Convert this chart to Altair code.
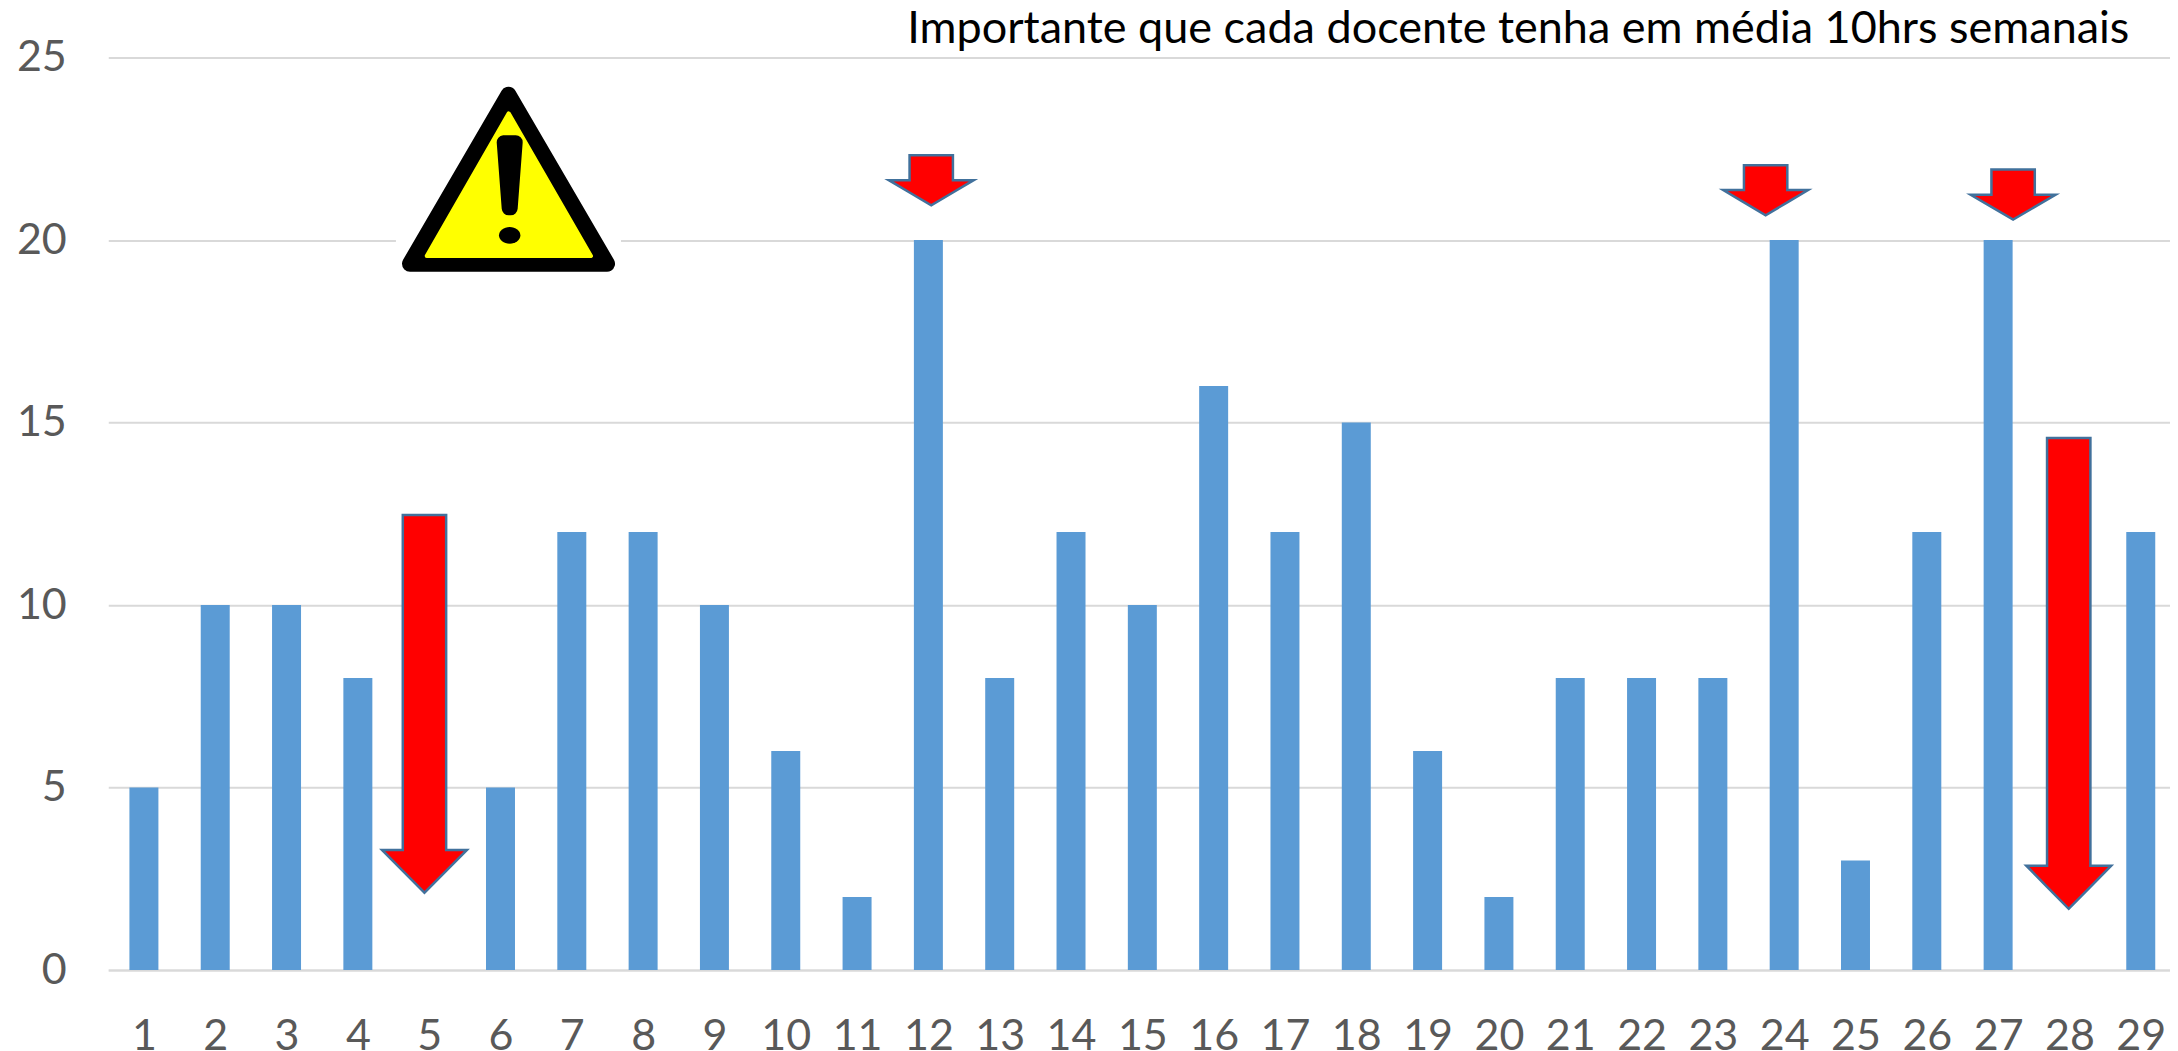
import altair as alt
import pandas as pd

categories = list(range(1, 30))
values = [5, 10, 10, 8, 0, 5, 12, 12, 10, 6, 2, 20, 8, 12, 10, 16, 12, 15, 6, 2,
          8, 8, 8, 20, 3, 12, 20, 0, 12]
y_ticks = [0, 5, 10, 15, 20, 25]
note = ["Importante que cada docente tenha em média 10hrs semanais"]

# arrows, in axis units
arrow_center = [4.934, 12.04, 23.74, 27.21, 27.99]
arrow_top = [12.47, 22.32, 22.05, 21.93, 14.58]
arrow_base = [3.29, 21.64, 21.37, 21.24, 2.86]
arrow_tip = [2.12, 20.95, 20.68, 20.56, 1.68]
SHAFT = 0.304
HEAD = 0.595

FONT = "Lato"
GREY = "#595959"
GRID = "#D9D9D9"
x_scale = alt.Scale(domain=[0.5, 29.41], nice=False, zero=False, padding=0)
y_scale = alt.Scale(domain=[0, 25], nice=False)
x_axis = alt.Axis(
    values=categories, grid=False, ticks=False, labelFont=FONT, labelFontSize=43,
    labelColor=GREY, labelPadding=45, domainColor=GRID, domainWidth=2,
    labelAngle=0, labelOverlap=False, labelFlush=False, title=None)
y_axis = alt.Axis(
    values=y_ticks, grid=True, gridColor=GRID, gridWidth=2, ticks=False, domain=False,
    labelFont=FONT, labelFontSize=43, labelColor=GREY, labelPadding=42, title=None)


def X(f):
    return alt.X(f, scale=x_scale, axis=x_axis)


def Y(f):
    return alt.Y(f, scale=y_scale, axis=y_axis)


def arrow_rows(k):
    cx, top, base, tip = arrow_center[k], arrow_top[k], arrow_base[k], arrow_tip[k]
    low = base + (tip - base) * (HEAD - SHAFT) / HEAD
    pts = [(cx - HEAD, base, base), (cx - SHAFT, base, low), (cx - SHAFT, top, low),
           (cx, top, tip), (cx + SHAFT, top, low), (cx + SHAFT, base, low),
           (cx + HEAD, base, base)]
    return [dict(id=k, i=i, x=p[0], y=p[1], y2=p[2]) for i, p in enumerate(pts)]


arrows = pd.DataFrame([r for k in range(len(arrow_center)) for r in arrow_rows(k)])


def poly(df, **kw):
    return alt.Chart(df).mark_area(interpolate="linear", orient="vertical", **kw).encode(
        x=X("x:Q"), y=Y("y:Q"), y2="y2:Q", detail="id:N",
    )


bars = alt.Chart(pd.DataFrame({"c": categories, "v": values})).mark_bar(
    size=29, color="#5B9BD5"
).encode(x=X("c:Q"), y=Y("v:Q"))

arrow_layer = poly(arrows, fill="#FF0000", stroke="#41719C", strokeWidth=2.5, strokeJoin="miter")

# warning sign, in axis units
backdrop = alt.Chart(pd.DataFrame({"x": [4.534], "x2": [7.69], "y": [18.9], "y2": [24.93]})).mark_rect(
    color="white"
).encode(x=X("x:Q"), x2="x2:Q", y=Y("y:Q"), y2="y2:Q")
outer = pd.DataFrame({"id": 0, "x": [4.731, 6.112, 7.494],
                      "y": [19.35, 23.98, 19.35], "y2": [19.35, 19.35, 19.35]})
inner = pd.DataFrame({"id": 0, "x": [4.965, 6.115, 7.269],
                      "y": [19.56, 23.47, 19.56], "y2": [19.56, 19.56, 19.56]})
bang = pd.DataFrame({"id": 0, "x": [6.045, 6.115, 6.143, 6.213],
                     "y": [22.68, 22.68, 22.68, 22.68], "y2": [22.68, 20.87, 20.87, 22.68]})
outer_layer = poly(outer, fill="black", stroke="black", strokeWidth=16, strokeJoin="round")
inner_layer = poly(inner, fill="#FFFF00", stroke="#FFFF00", strokeWidth=4, strokeJoin="round")
bang_layer = poly(bang, fill="black", stroke="black", strokeWidth=14, strokeJoin="round")
dot = alt.Chart(pd.DataFrame({"x": [6.129], "y": [20.13]})).mark_point(
    shape="M-1,0A1,0.78,0,1,1,1,0A1,0.78,0,1,1,-1,0Z", filled=True, opacity=1,
    color="black", size=458
).encode(x=X("x:Q"), y=Y("y:Q"))

text = alt.Chart(pd.DataFrame({"x": [28.84], "y": [25.4], "t": note})).mark_text(
    align="right", baseline="alphabetic", font=FONT, fontSize=45, color="black"
).encode(x=X("x:Q"), y=Y("y:Q"), text="t:N")

chart = alt.layer(
    bars, backdrop, outer_layer, inner_layer, bang_layer, dot, arrow_layer, text
).properties(
    width=2062.7, height=913,
    padding={"left": 100.3, "top": 49.3, "right": 0, "bottom": 88},
    autosize=alt.AutoSizeParams(type="none"),
).configure_view(stroke=None)

chart.save("out.html", embed_options={"renderer": "svg", "actions": False})
